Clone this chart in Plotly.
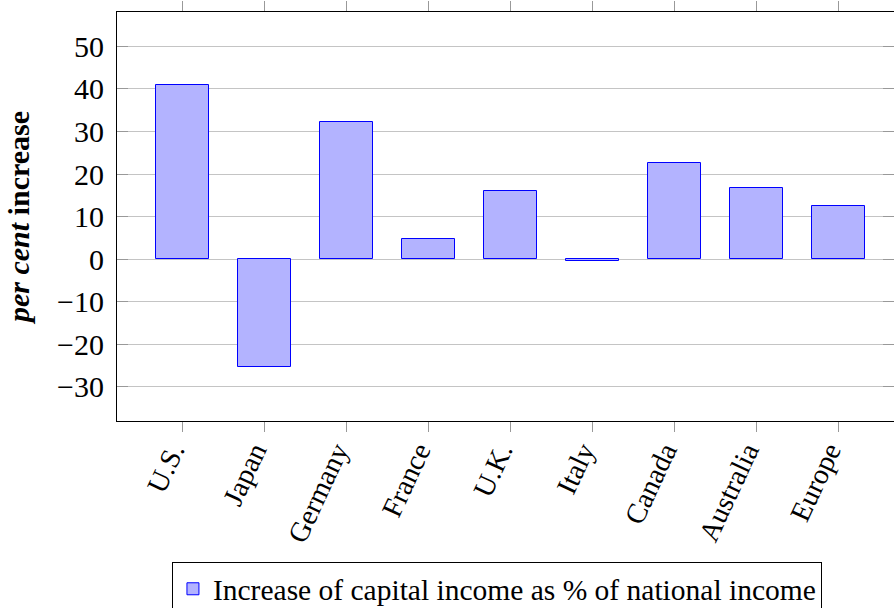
import plotly.graph_objects as go

categories = ["U.S.", "Japan", "Germany", "France", "U.K.", "Italy", "Canada", "Australia", "Europe"]
values = [41.0, -25.2, 32.2, 4.8, 16.1, -0.5, 22.5, 16.7, 12.4]
series_name = "Increase of capital income as % of national income"
y_tickvals = [-30, -20, -10, 0, 10, 20, 30, 40, 50]

FONT = "Liberation Serif, Times New Roman, serif"

fig = go.Figure()
fig.add_trace(go.Bar(
    x=list(range(len(categories))),
    y=values,
    name=series_name,
    width=0.65,
    marker=dict(color="rgb(179,179,255)", line=dict(color="rgb(0,0,255)", width=1)),
    showlegend=True,
))

fig.update_layout(
    width=894, height=608,
    margin=dict(l=117, r=0, t=12, b=187, autoexpand=False),
    paper_bgcolor="white", plot_bgcolor="white",
    font=dict(family=FONT, size=30, color="black"),
    showlegend=True,
    legend=dict(
        orientation="h",
        x=0.489, xanchor="center",
        y=-0.345, yanchor="top",
        bordercolor="black", borderwidth=1,
        bgcolor="white",
        font=dict(family=FONT, size=29.5),
        itemwidth=30,
    ),
    bargap=0,
)

fig.update_xaxes(
    range=[-0.795, 8.674],
    tickmode="array",
    tickvals=list(range(len(categories))),
    ticktext=categories,
    tickangle=-65,
    ticks="outside", ticklen=10, tickcolor="#999999", tickwidth=1,
    showline=True, linecolor="black", linewidth=1, mirror="ticks",
    showgrid=False, zeroline=False, automargin=False,
    tickfont=dict(family=FONT, size=28.5),
    ticklabelstandoff=-9,
    ticklabelshift=-10,
)

fig.update_yaxes(
    range=[-38.0, 58.05],
    tickmode="array",
    tickvals=y_tickvals,
    ticks="inside", ticklen=11, tickcolor="#999999", tickwidth=1,
    showline=True, linecolor="black", linewidth=1, mirror="ticks",
    showgrid=True, gridcolor="#c4c4c4", gridwidth=1,
    zeroline=False, automargin=False,
    tickfont=dict(family=FONT, size=30),
    ticklabelstandoff=6,
    title=dict(text="<b><i>per cent</i> increase</b>", font=dict(family=FONT, size=30), standoff=18),
)

fig.write_html(
    "out.html",
    config={"displayModeBar": False},
    post_script="document.body.style.margin='0';document.body.style.overflow='hidden';",
)
